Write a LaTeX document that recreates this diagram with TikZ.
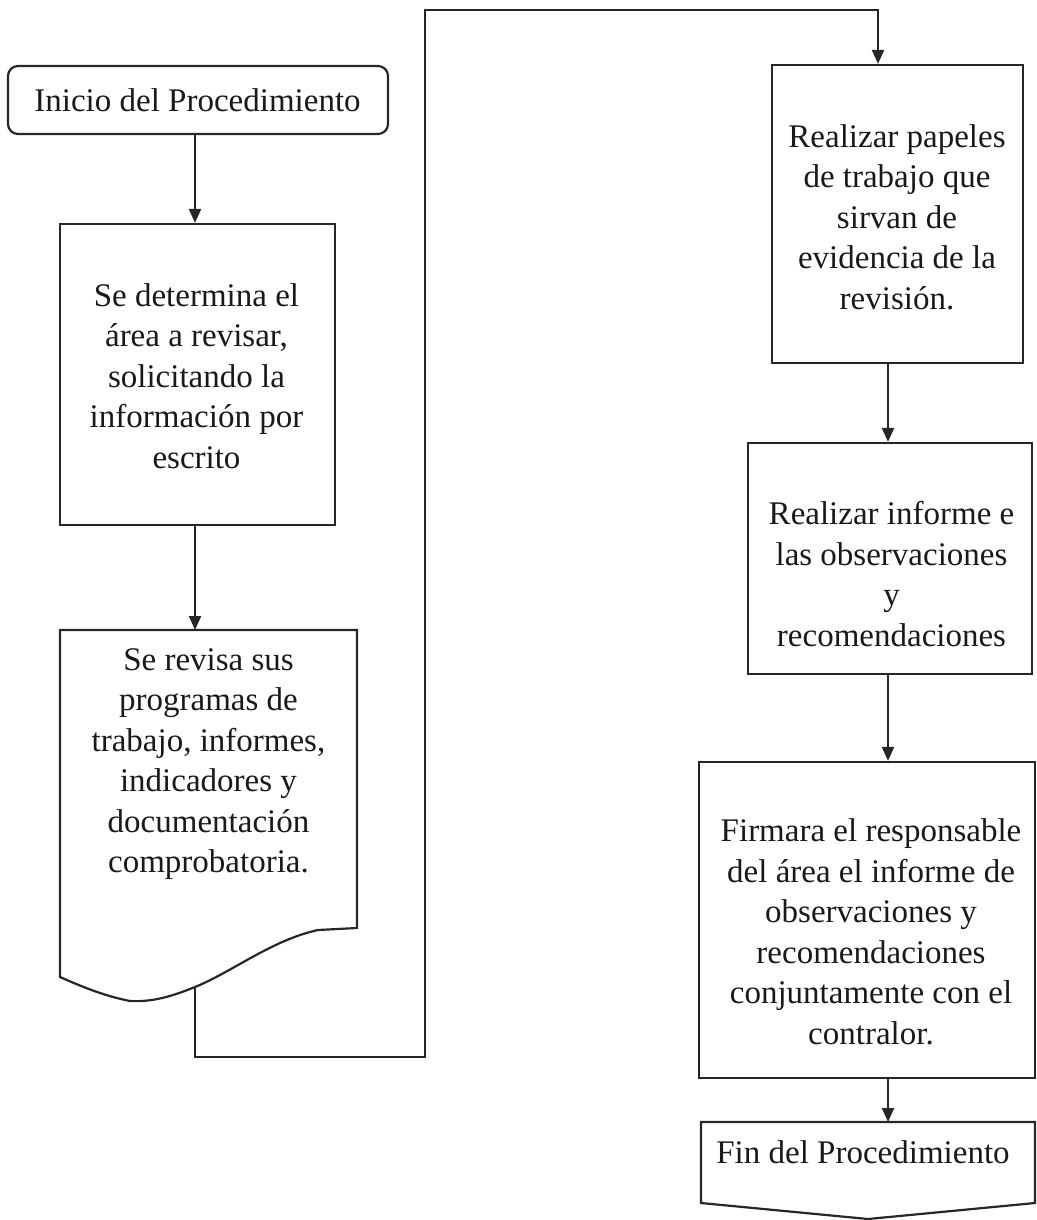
\documentclass[tikz,border=0pt]{standalone}
\usepackage{fontspec}
\setmainfont{Liberation Serif}
\usetikzlibrary{arrows.meta}
\begin{document}
\begin{tikzpicture}[x=1pt,y=-1pt,
  line width=2.2pt,
  ln/.style={draw=black!85, line join=miter},
  procbox/.style 2 args={draw=black!85, rectangle, minimum width=#1, minimum height=#2, inner sep=0pt},
  txt/.style={align=center, font=\fontsize{33}{40.5}\selectfont, inner sep=0pt, text=black!90},
  flow/.style={ln, -{Triangle[length=14pt,width=12pt]}}]
\path[use as bounding box] (0,0) rectangle (1036,1220);

% left column
\node[procbox={380pt}{68pt}, rounded corners=10pt] (start) at (198,100) {};
\node[txt] (tstart) at (197.5,100) {Inicio del Procedimiento};

\node[procbox={275pt}{301pt}] (a) at (197.5,374.5) {};
\node[txt] (ta) at (196.5,376) {Se determina el\\área a revisar,\\solicitando la\\información por\\escrito};

% document shape with wavy bottom
\coordinate (dtop) at (195,630);
\coordinate (dbot) at (195,987);
\draw[ln] (60,630) -- (357,630) -- (357,928) -- (318,930)
  .. controls (272,940) and (232,972) .. (dbot)
  .. controls (168,998) and (150,1002) .. (130,1001)
  .. controls (105,996) and (85,988) .. (60,977) -- cycle;
\node[txt] (td) at (208.5,764) {Se revisa sus\\programas de\\trabajo, informes,\\indicadores y\\documentación\\comprobatoria.};

\draw[flow] (start.south -| dtop) -- (a.north -| dtop);
\draw[flow] (a.south -| dtop) -- (dtop);

% link to the right column
\coordinate (c1) at (195,1057);
\coordinate (c2) at (425,1057);
\coordinate (c3) at (425,10);
\coordinate (c4) at (878,10);

% right column
\node[procbox={251pt}{298pt}] (b1) at (897.5,214) {};
\node[txt] (tb1) at (897,217) {Realizar papeles\\de trabajo que\\sirvan de\\evidencia de la\\revisión.};

\node[procbox={284pt}{231pt}] (b2) at (890,558.5) {};
\node[txt] (tb2) at (891.5,574) {Realizar informe e\\las observaciones\\y\\recomendaciones};

\node[procbox={336pt}{316pt}] (b3) at (867,920) {};
\node[txt] (tb3) at (871,932) {Firmara el responsable\\del área el informe de\\observaciones y\\recomendaciones\\conjuntamente con el\\contralor.};

% end shape
\coordinate (ftop) at (888,1122);
\draw[ln] (701,1122) -- (1035,1122) -- (1035,1203) -- (868,1219) -- (701,1203) -- cycle;
\node[txt] (tf) at (863,1152) {Fin del Procedimiento};

\draw[flow] (dbot) -- (c1) -- (c2) -- (c3) -- (c4) -- (b1.north -| c4);

\coordinate (rc) at (888,0);
\draw[flow] (b1.south -| rc) -- (b2.north -| rc);
\draw[flow] (b2.south -| rc) -- (b3.north -| rc);
\draw[flow] (b3.south -| rc) -- (ftop);
\end{tikzpicture}
\end{document}
